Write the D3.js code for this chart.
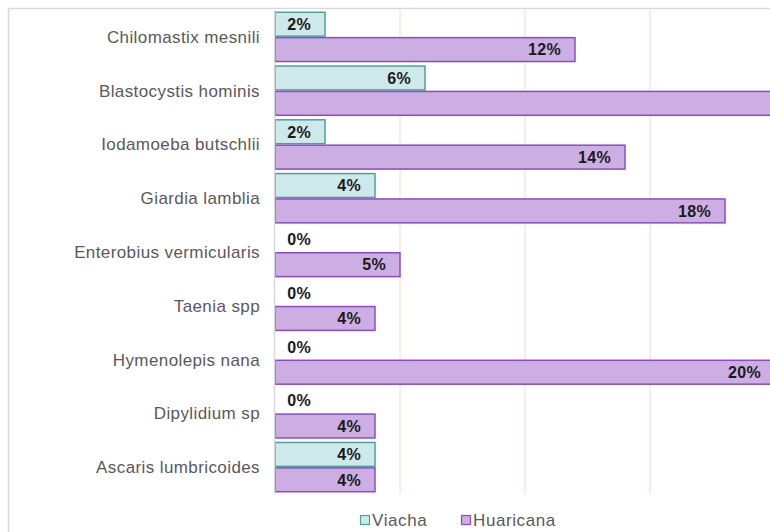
<!DOCTYPE html>
<html>
<head>
<meta charset="utf-8">
<script src="https://cdn.jsdelivr.net/npm/d3@7.9.0/dist/d3.min.js"></script>
<style>
  html, body { margin: 0; padding: 0; background: #fff; overflow: hidden; }
  svg { display: block; font-family: "Liberation Sans", Arial, sans-serif; }
</style>
</head>
<body>
<svg id="chart" width="770" height="532"></svg>
<script>
// ---- data ----
const categories = [
  'Chilomastix mesnili',
  'Blastocystis hominis',
  'Iodamoeba butschlii',
  'Giardia lamblia',
  'Enterobius vermicularis',
  'Taenia spp',
  'Hymenolepis nana',
  'Dipylidium sp',
  'Ascaris lumbricoides'
];
const seriesNames = ['Viacha', 'Huaricana'];
const viacha = [2, 6, 2, 4, 0, 0, 0, 0, 4];
const huaricana = [12, 22, 14, 18, 5, 4, 20, 4, 4];
const gridTicks = [5, 10, 15, 20, 25];

const fills = { Viacha: '#cde9e9', Huaricana: '#cdaee3' };
const strokes = { Viacha: '#4f9f9f', Huaricana: '#8a4cc0' };

const W = 770;
const svg = d3.select('#chart');

// outer frame (chart area continues past the window)
svg.append('rect')
  .attr('x', 8.5).attr('y', 8.5)
  .attr('width', 900).attr('height', 700)
  .attr('fill', 'none')
  .attr('stroke', '#d9d9d9')
  .attr('stroke-width', 1.5);

// ---- scales ----
const x = d3.scaleLinear().domain([0, 25]).range([275, 900]);
const y = d3.scaleBand()
  .domain(categories)
  .range([10, 494])
  .paddingInner(0.056)
  .paddingOuter(0.028);
const ySub = d3.scaleBand()
  .domain(seriesNames)
  .range([0, y.bandwidth()]);

// gridlines
svg.append('g')
  .selectAll('line')
  .data(gridTicks)
  .join('line')
  .attr('x1', d => x(d)).attr('x2', d => x(d))
  .attr('y1', 10).attr('y2', 494)
  .attr('stroke', '#fce6da')
  .attr('stroke-width', 1.5);

// category labels
svg.append('g')
  .selectAll('text')
  .data(categories)
  .join('text')
  .attr('x', 260)
  .attr('y', d => y(d) + y.bandwidth() / 2)
  .attr('dy', '0.35em')
  .attr('text-anchor', 'end')
  .attr('fill', '#595959')
  .style('font-size', '17px')
  .style('letter-spacing', '0.4px')
  .text(d => d);

// bars
const rows = [];
categories.forEach((c, i) => {
  rows.push({ cat: c, series: 'Viacha', value: viacha[i] });
  rows.push({ cat: c, series: 'Huaricana', value: huaricana[i] });
});

svg.append('g')
  .selectAll('rect')
  .data(rows.filter(d => d.value > 0))
  .join('rect')
  .attr('x', x(0))
  .attr('y', d => y(d.cat) + ySub(d.series) + 0.75)
  .attr('width', d => x(d.value) - x(0))
  .attr('height', ySub.bandwidth() - 1.5)
  .attr('fill', d => fills[d.series])
  .attr('stroke', d => strokes[d.series])
  .attr('stroke-width', 1.5);

// value labels (inside end; the one past the right edge is not in view)
const labelX = d => Math.max(x(d.value) - 14, x(0) + 36);
svg.append('g')
  .selectAll('text')
  .data(rows.filter(d => labelX(d) < W))
  .join('text')
  .attr('x', labelX)
  .attr('y', d => y(d.cat) + ySub(d.series) + ySub.bandwidth() / 2)
  .attr('dy', '0.36em')
  .attr('text-anchor', 'end')
  .attr('fill', '#1a1a1a')
  .style('font-size', '16px')
  .style('font-weight', 'bold')
  .style('letter-spacing', '0.3px')
  .text(d => d.value + '%');

// vertical axis line
svg.append('line')
  .attr('x1', x(0) - 0.5).attr('x2', x(0) - 0.5)
  .attr('y1', 10).attr('y2', 494)
  .attr('stroke', '#d9d9d9')
  .attr('stroke-width', 1.5);

// legend
const legendX = [360, 461];
const legend = svg.append('g')
  .selectAll('g')
  .data(seriesNames)
  .join('g')
  .attr('transform', (d, i) => `translate(${legendX[i]},520)`);

legend.append('rect')
  .attr('x', 0.5).attr('y', -4.5)
  .attr('width', 9).attr('height', 9)
  .attr('fill', d => fills[d])
  .attr('stroke', d => strokes[d])
  .attr('stroke-width', 1.2);

legend.append('text')
  .attr('x', 12)
  .attr('y', 0)
  .attr('dy', '0.36em')
  .attr('fill', '#595959')
  .style('font-size', '17px')
  .style('letter-spacing', '0.6px')
  .text(d => d);
</script>
</body>
</html>
